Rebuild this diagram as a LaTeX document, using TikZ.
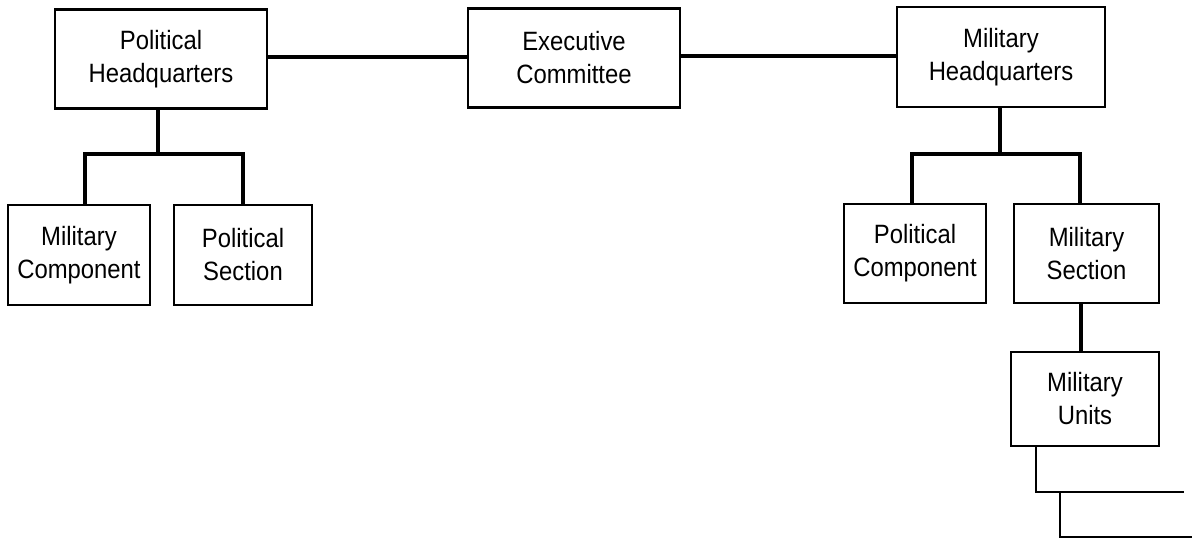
\documentclass[tikz,border=0pt]{standalone}
\usepackage{fontspec}
\setmainfont{Liberation Sans}[FakeStretch=0.9]
\begin{document}
\begin{tikzpicture}[x=1pt,y=-1pt,
  orgbox/.style={draw=black,line width=2.4pt,inner sep=0pt,align=center,
     font=\fontsize{26.5}{33}\selectfont},
  tree/.style={line width=4pt,line join=miter},
  thin/.style={line width=2.2pt,line join=miter}]
\useasboundingbox (0,0) rectangle (1192,538);
% boxes
\node[orgbox,minimum width=212pt,minimum height=99pt] (PHQ) at (161,59) {Political\\Headquarters};
\node[orgbox,minimum width=212pt,minimum height=99pt] (EC) at (574,58) {Executive\\Committee};
\node[orgbox,minimum width=208pt,minimum height=100pt] (MHQ) at (1001,57) {Military\\Headquarters};
\node[orgbox,minimum width=142pt,minimum height=100pt] (MC) at (79,255) {Military\\Component};
\node[orgbox,minimum width=138pt,minimum height=100pt] (PS) at (243,255) {Political\\Section};
\node[orgbox,minimum width=142pt,minimum height=99pt] (PC) at (915,253.5) {Political\\Component};
\node[orgbox,minimum width=145pt,minimum height=99pt] (MS) at (1086.5,253.5) {Military\\Section};
\node[orgbox,minimum width=148pt,minimum height=94pt] (MU) at (1085,399) {Military\\Units};
% junction coordinates
\coordinate (pj) at (158,154);
\coordinate (pl) at (85,154);
\coordinate (pr) at (243,154);
\coordinate (mj) at (1000,154);
\coordinate (ml) at (912,154);
\coordinate (mr) at (1080,154);
\coordinate (u1) at (1036,492);
\coordinate (u1e) at (1184,492);
\coordinate (u2) at (1060,492);
\coordinate (u2b) at (1060,537);
\coordinate (u2e) at (1192,537);
% top row connectors
\draw[tree] (PHQ.east |- 0,57) -- (EC.west |- 0,57);
\draw[tree] (EC.east |- 0,56) -- (MHQ.west |- 0,56);
% political headquarters tree
\draw[tree] (PHQ.south -| pj) -- (pj);
\draw[tree] (MC.north -| pl) -- (pl) -- (pr) -- (PS.north -| pr);
% military headquarters tree
\draw[tree] (MHQ.south -| mj) -- (mj);
\draw[tree] (PC.north -| ml) -- (ml) -- (mr) -- (MS.north -| mr);
\draw[tree] (MS.south -| 1081,0) -- (MU.north -| 1081,0);
% military units lines
\draw[thin] (MU.south -| u1) -- (u1) -- (u1e);
\draw[thin] (u2) -- (u2b) -- (u2e);
\end{tikzpicture}
\end{document}
